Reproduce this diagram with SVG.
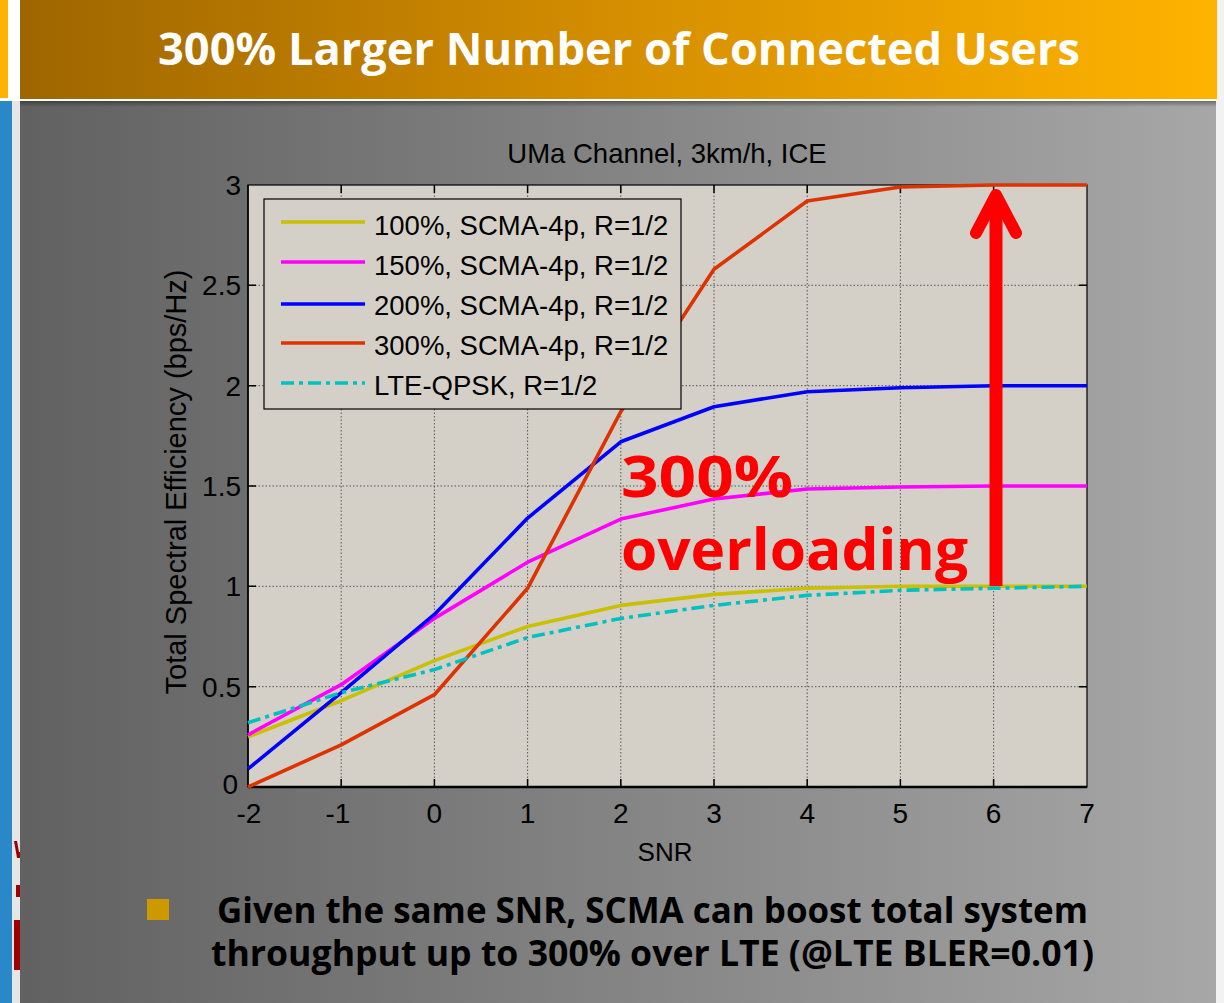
<svg xmlns="http://www.w3.org/2000/svg" width="1224" height="1003" viewBox="0 0 1224 1003">
<defs>
<linearGradient id="hdr" x1="0" y1="0" x2="1" y2="0">
<stop offset="0" stop-color="#9E6600"/>
<stop offset="0.5" stop-color="#D58E00"/>
<stop offset="1" stop-color="#FEB300"/>
</linearGradient>
<linearGradient id="pnl" x1="0" y1="0" x2="1" y2="0">
<stop offset="0" stop-color="#616161"/>
<stop offset="1" stop-color="#A7A7A7"/>
</linearGradient>
<linearGradient id="shd" x1="0" y1="0" x2="0" y2="1">
<stop offset="0" stop-color="#000" stop-opacity="0.35"/>
<stop offset="1" stop-color="#000" stop-opacity="0"/>
</linearGradient>
</defs>
<style>
.ax{font-family:"Liberation Sans",Arial,sans-serif;fill:#000}
.tk{font-size:28px}
.lg{font-family:"Liberation Sans",Arial,sans-serif;font-size:27.5px;fill:#000}
.grid{stroke:#555;stroke-width:1;stroke-dasharray:1.5 2;fill:none}
.tick{stroke:#000;stroke-width:1.5;fill:none}
.curve{fill:none;stroke-width:3.6;stroke-linejoin:round}
.bold{font-family:"Open Sans","Noto Sans","DejaVu Sans",sans-serif;font-weight:bold}
</style>
<rect width="1224" height="1003" fill="#fff"/>
<!-- left strips -->
<rect x="0" y="0" width="8" height="98" fill="#FFB300"/>
<rect x="0" y="101" width="12" height="902" fill="#2A88C8"/>
<rect x="12" y="101" width="8" height="902" fill="#E6E6E6"/>
<!-- right decoration -->
<rect x="1216" y="0" width="8" height="1003" fill="#F2F2F2"/>
<!-- header -->
<g id="header">
<rect x="20" y="0" width="1197" height="99" fill="url(#hdr)"/>
<text x="619" y="65" text-anchor="middle" class="bold" font-size="44" fill="#fff" textLength="922" lengthAdjust="spacingAndGlyphs">300% Larger Number of Connected Users</text>
</g>
<!-- panel -->
<rect x="20" y="101" width="1196" height="902" fill="url(#pnl)"/>
<rect x="20" y="101" width="1196" height="6" fill="url(#shd)"/>
<!-- cut off red fragments at left -->
<g fill="#A00000">
<polygon points="14,841 17,841 19,852 20,852 20,858 17,858"/>
<rect x="16" y="885" width="4" height="12"/>
<rect x="14" y="920" width="6" height="50"/>
</g>
<!-- plot -->
<g id="plot">
<rect x="248" y="185" width="839" height="602" fill="#D4D0C8"/>
<g class="grid">
<line x1="341.2" y1="185" x2="341.2" y2="787"/>
<line x1="434.4" y1="185" x2="434.4" y2="787"/>
<line x1="527.6" y1="185" x2="527.6" y2="787"/>
<line x1="620.8" y1="185" x2="620.8" y2="787"/>
<line x1="714" y1="185" x2="714" y2="787"/>
<line x1="807.2" y1="185" x2="807.2" y2="787"/>
<line x1="900.4" y1="185" x2="900.4" y2="787"/>
<line x1="993.6" y1="185" x2="993.6" y2="787"/>
<line x1="248" y1="686.7" x2="1087" y2="686.7"/>
<line x1="248" y1="586.3" x2="1087" y2="586.3"/>
<line x1="248" y1="486" x2="1087" y2="486"/>
<line x1="248" y1="385.7" x2="1087" y2="385.7"/>
<line x1="248" y1="285.3" x2="1087" y2="285.3"/>
</g>
<g class="tick">
<path d="M341.2,787v-8M434.4,787v-8M527.6,787v-8M620.8,787v-8M714,787v-8M807.2,787v-8M900.4,787v-8M993.6,787v-8"/>
<path d="M341.2,185v8M434.4,185v8M527.6,185v8M620.8,185v8M714,185v8M807.2,185v8M900.4,185v8M993.6,185v8"/>
<path d="M248,686.7h8M248,586.3h8M248,486h8M248,385.7h8M248,285.3h8"/>
<path d="M1087,686.7h-8M1087,586.3h-8M1087,486h-8M1087,385.7h-8M1087,285.3h-8"/>
</g>
<rect x="248" y="185" width="839" height="602" fill="none" stroke="#000" stroke-width="1.2"/>
<line x1="248" y1="787" x2="1087" y2="787" stroke="#000" stroke-width="2.5"/>
<line x1="248" y1="185" x2="248" y2="787" stroke="#000" stroke-width="1.5"/>
<!-- tick labels -->
<g class="ax tk" text-anchor="end">
<text x="238" y="794">0</text>
<text x="241" y="697">0.5</text>
<text x="241" y="596">1</text>
<text x="241" y="496">1.5</text>
<text x="241" y="396">2</text>
<text x="241" y="295">2.5</text>
<text x="241" y="195">3</text>
</g>
<g class="ax tk" text-anchor="middle">
<text x="249" y="823">-2</text>
<text x="338" y="823">-1</text>
<text x="434.4" y="823">0</text>
<text x="527.6" y="823">1</text>
<text x="620.8" y="823">2</text>
<text x="714" y="823">3</text>
<text x="807.2" y="823">4</text>
<text x="900.4" y="823">5</text>
<text x="993.6" y="823">6</text>
<text x="1087" y="823">7</text>
</g>
<g class="ax" text-anchor="middle">
<text x="665" y="861" font-size="26">SNR</text>
<text x="667" y="163" font-size="27.5">UMa Channel, 3km/h, ICE</text>
<text transform="translate(186,482) rotate(-90)" font-size="29">Total Spectral Efficiency (bps/Hz)</text>
</g>
</g>
<!-- connectors (curves) -->
<g id="curves">
<polyline class="curve" stroke="#C8C000" points="248,736.8 341.2,700.7 434.4,660.6 527.6,626.5 620.8,605.4 714,594.4 807.2,588.3 900.4,586.3 993.6,586.3 1087,586.3"/>
<polyline class="curve" stroke="#FF00FF" points="248,734.8 341.2,684.7 434.4,618.4 527.6,562.2 620.8,519.1 714,499 807.2,489 900.4,487 993.6,486 1087,486"/>
<polyline class="curve" stroke="#0000FF" points="248,768.9 341.2,692.7 434.4,614.4 527.6,518.1 620.8,441.8 714,406.7 807.2,391.7 900.4,387.7 993.6,385.7 1087,385.7"/>
<polyline class="curve" stroke="#DD3300" points="248,787 341.2,744.9 434.4,694.7 527.6,588.3 620.8,411.7 714,269.3 807.2,201 900.4,187 993.6,185 1087,185"/>
<polyline class="curve" stroke="#00C0C0" stroke-dasharray="13 5 4 5" points="248,722.8 341.2,692.7 434.4,669.6 527.6,637.5 620.8,618.4 714,605.4 807.2,595.4 900.4,590.3 993.6,588.3 1087,586.3"/>
</g>
<!-- legend -->
<g id="legend">
<rect x="264" y="199" width="417" height="210" fill="#D4D0C8" stroke="#000" stroke-width="1.2"/>
<line x1="281" y1="222" x2="365" y2="222" stroke="#C8C000" stroke-width="3.6"/>
<line x1="281" y1="262" x2="365" y2="262" stroke="#FF00FF" stroke-width="3.6"/>
<line x1="281" y1="304" x2="365" y2="304" stroke="#0000FF" stroke-width="3.6"/>
<line x1="281" y1="343" x2="365" y2="343" stroke="#DD3300" stroke-width="3.6"/>
<line x1="281" y1="383" x2="365" y2="383" stroke="#00C0C0" stroke-width="3.6" stroke-dasharray="13 5 4 5"/>
<g class="lg">
<text x="374" y="235">100%, SCMA-4p, R=1/2</text>
<text x="374" y="275">150%, SCMA-4p, R=1/2</text>
<text x="374" y="315">200%, SCMA-4p, R=1/2</text>
<text x="374" y="355">300%, SCMA-4p, R=1/2</text>
<text x="374" y="395">LTE-QPSK, R=1/2</text>
</g>
</g>
<!-- annotation -->
<g id="annotation">
<text x="621" y="497" class="bold" font-size="58" fill="#FF0000" textLength="172" lengthAdjust="spacingAndGlyphs">300%</text>
<text x="621" y="570" class="bold" font-size="58" fill="#FF0000" textLength="347" lengthAdjust="spacingAndGlyphs">overloading</text>
<line x1="996" y1="586" x2="996" y2="196" stroke="#FF0000" stroke-width="13"/>
<polyline points="976,233 996,195 1016,233" fill="none" stroke="#FF0000" stroke-width="12" stroke-linecap="round" stroke-linejoin="round"/>
</g>
<!-- bullet -->
<g id="bullet">
<rect x="147" y="899" width="22" height="21" fill="#CC9900"/>
<text x="217" y="923" class="bold" font-size="35" fill="#000" textLength="871" lengthAdjust="spacingAndGlyphs">Given the same SNR, SCMA can boost total system</text>
<text x="211" y="966" class="bold" font-size="35" fill="#000" textLength="883" lengthAdjust="spacingAndGlyphs">throughput up to 300% over LTE (@LTE BLER=0.01)</text>
</g>
</svg>
